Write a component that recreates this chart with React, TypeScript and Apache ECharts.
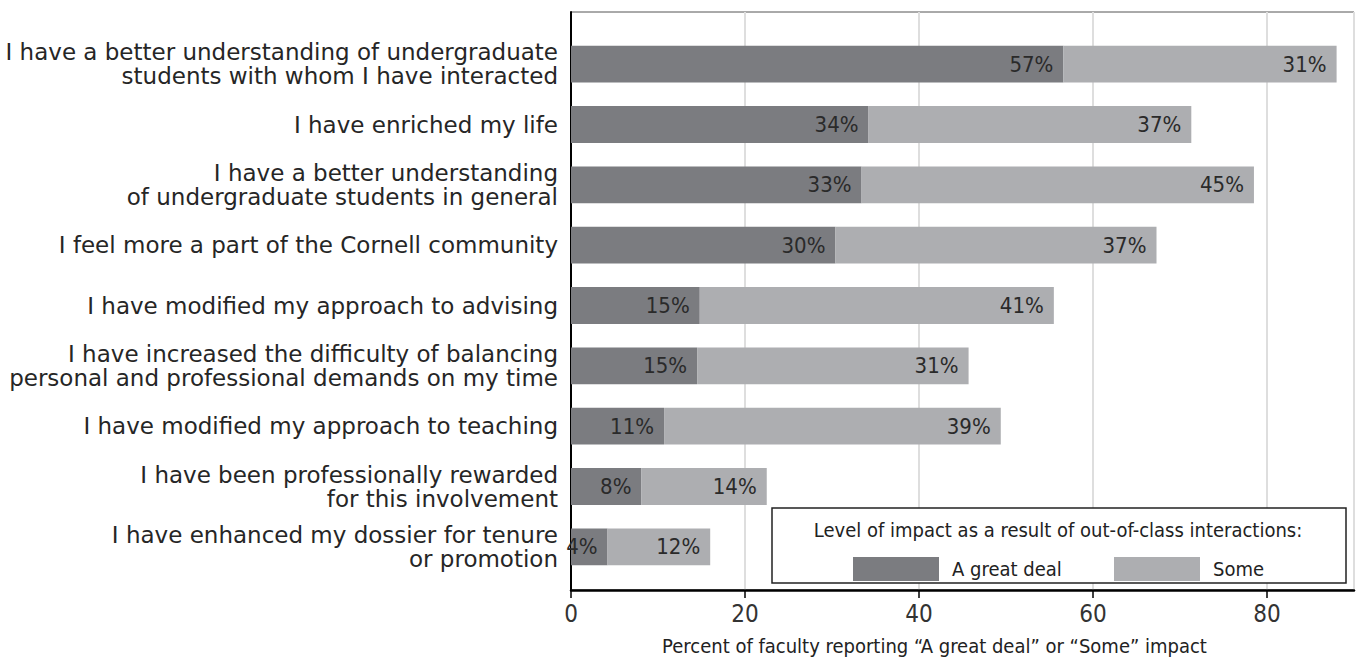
import React, { useEffect, useRef } from "react";
import * as echarts from "echarts";

const categories = [
  "I have a better understanding of undergraduate\nstudents with whom I have interacted",
  "I have enriched my life",
  "I have a better understanding\nof undergraduate students in general",
  "I feel more a part of the Cornell community",
  "I have modified my approach to advising",
  "I have increased the difficulty of balancing\npersonal and professional demands on my time",
  "I have modified my approach to teaching",
  "I have been professionally rewarded\nfor this involvement",
  "I have enhanced my dossier for tenure\nor promotion",
];
const greatDeal = [56.6, 34.2, 33.4, 30.4, 14.8, 14.5, 10.7, 8.1, 4.2];
const some = [31.4, 37.1, 45.1, 36.9, 40.7, 31.2, 38.7, 14.4, 11.8];
const xTicks = [0, 20, 40, 60, 80];
const seriesNames = ["A great deal", "Some"];
const legendTitle = "Level of impact as a result of out-of-class interactions:";
const axisTitle = "Percent of faculty reporting \u201CA great deal\u201D or \u201CSome\u201D impact";

const DARK = "#7b7c80";
const LIGHT = "#adaeb1";
const COND = "'DejaVu Sans Condensed', 'DejaVu Sans', sans-serif";
const REG = "'DejaVu Sans', Verdana, sans-serif";

export default function App() {
  const ref = useRef<HTMLDivElement>(null);
  useEffect(() => {
    if (!ref.current) return;
    const chart = echarts.init(ref.current, undefined, { renderer: "svg" });
    const label = {
      show: true,
      position: "insideRight",
      distance: 10,
      color: "#2a2a2a",
      fontFamily: COND,
      fontSize: 22,
      formatter: (p: any) => Math.round(p.value) + "%",
    };
    const legendCommon = {
      top: 552,
      icon: "rect",
      itemWidth: 86,
      itemHeight: 24,
      itemStyle: { borderWidth: 0 },
      textStyle: { fontSize: 20, color: "#222", fontFamily: COND, padding: [0, 0, 0, 8] },
      selectedMode: false,
      z: 6,
    };
    chart.setOption({
      animation: false,
      backgroundColor: "#fff",
      grid: [
        { left: 571, right: 2, top: 12, bottom: 63, show: true, borderColor: "#555", borderWidth: 1, containLabel: false },
        { left: 571, right: 2, top: 34, bottom: 84, containLabel: false },
      ],
      xAxis: [
        {
          gridIndex: 0,
          type: "value",
          min: xTicks[0],
          max: 90,
          interval: 20,
          axisLine: { show: true, lineStyle: { color: "#000", width: 2.5 } },
          axisTick: { show: true, length: 8, lineStyle: { color: "#000", width: 1.5 } },
          splitLine: { show: true, lineStyle: { color: "#dedede", width: 2 } },
          axisLabel: { showMaxLabel: false, margin: 12, fontSize: 24, color: "#333", fontFamily: COND },
          name: axisTitle,
          nameLocation: "middle",
          nameGap: 46,
          nameTextStyle: { fontSize: 20, color: "#222", fontFamily: COND, padding: [0, 56, 0, 0] },
        },
        { gridIndex: 1, type: "value", min: 0, max: 90, show: false },
      ],
      yAxis: [
        {
          gridIndex: 0,
          type: "value",
          axisLine: { show: true, lineStyle: { color: "#000", width: 2 } },
          axisTick: { show: false },
          axisLabel: { show: false },
          splitLine: { show: false },
        },
        {
          gridIndex: 1,
          type: "category",
          inverse: true,
          data: categories,
          axisLine: { show: false },
          axisTick: { show: false },
          axisLabel: {
            margin: 13,
            fontSize: 23,
            lineHeight: 24,
            color: "#262626",
            fontFamily: REG,
            align: "right",
          },
        },
      ],
      legend: [
        { ...legendCommon, data: [seriesNames[0]], left: 848 },
        { ...legendCommon, data: [seriesNames[1]], left: 1109 },
      ],
      graphic: [
        {
          type: "rect",
          z: 5,
          shape: { x: 772, y: 508, width: 574, height: 75 },
          style: { fill: "#fff", stroke: "#222", lineWidth: 1.5 },
        },
        {
          type: "text",
          z: 6,
          x: 1058,
          y: 530,
          style: {
            text: legendTitle,
            fontSize: 20,
            fontFamily: COND,
            fill: "#222",
            textAlign: "center",
            textVerticalAlign: "middle",
          },
        },
      ],
      series: [
        {
          name: seriesNames[0],
          type: "bar",
          stack: "total",
          xAxisIndex: 1,
          yAxisIndex: 1,
          barCategoryGap: "39%",
          data: greatDeal,
          itemStyle: { color: DARK },
          label,
        },
        {
          name: seriesNames[1],
          type: "bar",
          stack: "total",
          xAxisIndex: 1,
          yAxisIndex: 1,
          barCategoryGap: "39%",
          data: some,
          itemStyle: { color: LIGHT },
          label,
        },
      ],
    });
    return () => chart.dispose();
  }, []);
  return (
    <div
      ref={ref}
      style={{ position: "fixed", left: 0, top: 0, width: 1356, height: 661 }}
    />
  );
}
